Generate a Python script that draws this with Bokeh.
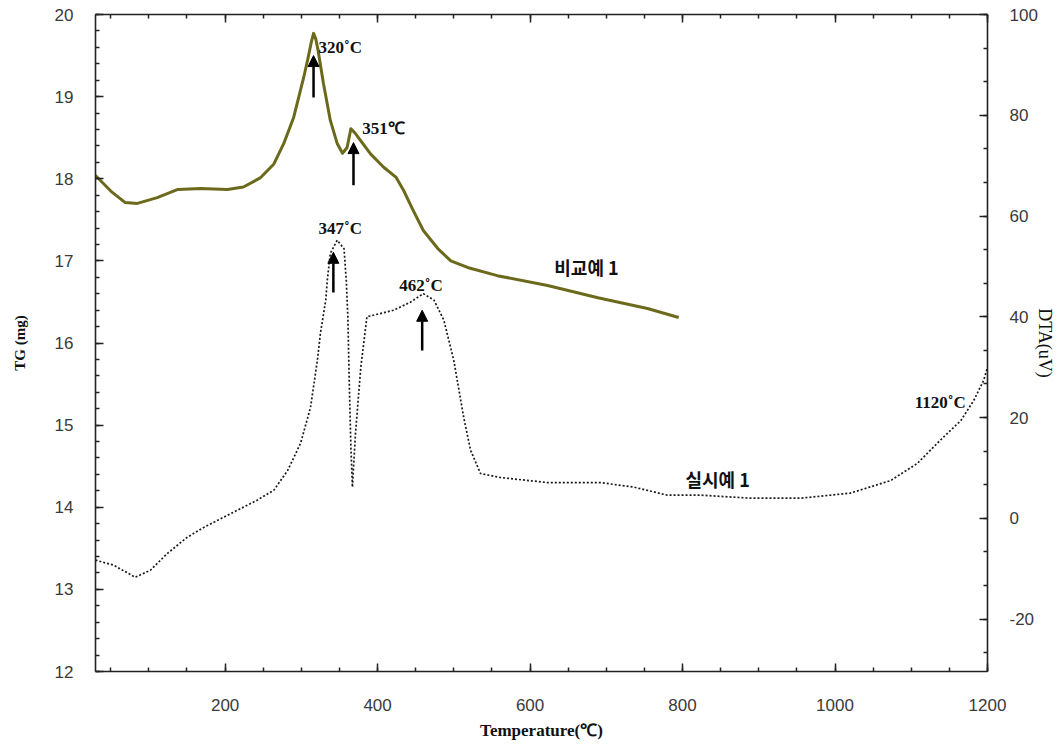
from bokeh.plotting import figure
from bokeh.models import (Range1d, LinearAxis, SingleIntervalTicker, ColumnDataSource,
                          Arrow, NormalHead, CustomJSTickFormatter)
from bokeh.core.properties import value
from bokeh.embed import file_html
from bokeh.resources import INLINE

# ---- data ----
tg_temp = [30, 50, 69, 85, 111, 138, 168, 203, 224, 246, 264, 277, 290, 303, 309, 313, 316,
           319, 322, 329, 338, 347, 354, 360, 365, 371, 378, 391, 408, 424, 434, 447, 460,
           479, 496, 518, 557, 623, 689, 754, 795]
tg_mass = [18.04, 17.85, 17.71, 17.70, 17.77, 17.87, 17.88, 17.87, 17.90, 18.01, 18.18, 18.43,
           18.75, 19.23, 19.48, 19.66, 19.77, 19.70, 19.56, 19.16, 18.71, 18.43, 18.31, 18.38,
           18.61, 18.55, 18.46, 18.30, 18.14, 18.02, 17.86, 17.61, 17.37, 17.15, 17.00, 16.92,
           16.82, 16.70, 16.55, 16.42, 16.31]

dta_temp = [30, 54, 82, 102, 124, 150, 172, 203, 242, 264, 282, 299, 312, 321, 325, 332, 334,
            338, 347, 356, 359, 361, 363, 365, 367, 371, 378, 386, 421, 443, 460, 474, 487,
            500, 513, 522, 535, 561, 623, 692, 736, 780, 824, 889, 955, 1020, 1073, 1108,
            1138, 1165, 1182, 1195, 1200]
dta_uv = [-8.3, -9.3, -11.7, -10.3, -7.0, -3.8, -1.8, 0.6, 3.6, 5.6, 9.5, 14.9, 22.0, 31.3,
          36.7, 43.3, 47.2, 52.6, 55.2, 53.5, 47.0, 40.0, 26.0, 14.0, 6.2, 16.8, 30.0, 40.0,
          41.3, 42.9, 44.6, 43.3, 39.3, 31.3, 20.0, 13.5, 8.9, 8.1, 7.1, 7.1, 6.2, 4.6, 4.6,
          4.0, 4.0, 5.0, 7.5, 10.9, 15.5, 19.4, 23.4, 27.4, 30.0]

# peak annotations on the TG curve
tg_ann_text = ["320˚C", "351℃"]
tg_ann_x = [322.5, 380]
tg_ann_y = [19.60, 18.61]
tg_arrow_x = [316, 368.4]
tg_arrow_y0 = [18.99, 17.92]
tg_arrow_y1 = [19.50, 18.44]

# peak annotations on the DTA curve
dta_ann_text = ["347˚C", "462˚C", "1120˚C"]
dta_ann_x = [351, 457, 1138]
dta_ann_y = [57.5, 46.2, 23.0]
dta_arrow_x = [342, 458.5]
dta_arrow_y0 = [44.8, 33.3]
dta_arrow_y1 = [52.8, 41.3]

series_names = ["비교예 1", "실시예 1"]
series_name_x = [674, 846]
series_name_y_tg = [16.92]
series_name_y_dta = [7.9]

# ---- figure ----
p = figure(frame_width=892, frame_height=657, output_backend="svg", toolbar_location=None,
           x_range=Range1d(30, 1200), y_range=Range1d(12, 20),
           min_border_left=95, min_border_right=69, min_border_top=14, min_border_bottom=67,
           x_axis_location=None, y_axis_location=None)
p.extra_y_ranges = {"dta": Range1d(-30.4, 100)}
p.grid.visible = False
p.outline_line_color = None
p.background_fill_color = "white"
p.border_fill_color = "white"

TICK_FONT = "Liberation Sans"
TICK_COLOR = "#3a3a3a"
fmt = "return tick.toFixed(0);"

def style(ax, interval, minors):
    ax.ticker = SingleIntervalTicker(interval=interval, num_minor_ticks=minors)
    ax.axis_line_color = "#222222"
    ax.axis_line_width = 1.6
    ax.major_tick_in = 8
    ax.major_tick_out = 0
    ax.minor_tick_in = 4
    ax.minor_tick_out = 0
    ax.major_tick_line_color = "#222222"
    ax.minor_tick_line_color = "#222222"
    ax.major_tick_line_width = 1.5
    ax.minor_tick_line_width = 1.5
    ax.major_label_text_font = TICK_FONT
    ax.major_label_text_font_size = "17px"
    ax.major_label_text_color = TICK_COLOR
    ax.formatter = CustomJSTickFormatter(code=fmt)

bottom = LinearAxis(axis_label="Temperature(℃)")
style(bottom, 200, 4)
bottom.major_label_standoff = 27
bottom.axis_label_standoff = 7
bottom.axis_label_text_font = "Liberation Serif"
bottom.axis_label_text_font_style = "bold"
bottom.axis_label_text_font_size = "17px"
bottom.axis_label_text_color = "#111111"
p.add_layout(bottom, "below")

top = LinearAxis()
style(top, 200, 4)
top.formatter = CustomJSTickFormatter(code="return '';")
top.major_label_standoff = 0
top.major_label_text_font_size = "0px"
p.add_layout(top, "above")

left = LinearAxis(axis_label="TG (mg)")
style(left, 1, 5)
left.major_label_standoff = 22
left.axis_label_standoff = 24
left.axis_label_text_font = "Liberation Serif"
left.axis_label_text_font_style = "bold"
left.axis_label_text_font_size = "15px"
left.axis_label_text_color = "#111111"
p.add_layout(left, "left")

right = LinearAxis(y_range_name="dta", axis_label="DTA(uV)")
style(right, 20, 3)
right.major_label_standoff = 22
right.axis_label_standoff = -6
right.axis_label_text_font = "Liberation Serif"
right.axis_label_text_font_style = "normal"
right.axis_label_text_font_size = "18px"
right.axis_label_text_color = "#111111"
p.add_layout(right, "right")

# ---- curves ----
p.line(tg_temp, tg_mass, line_color="#6b6a1c", line_width=3.0, line_join="round")
p.line(dta_temp, dta_uv, y_range_name="dta", line_color="#1a1a1a", line_width=1.7,
       line_dash="2 2")

# ---- arrows ----
head = dict(size=11, fill_color="black", line_color="black")
p.add_layout(Arrow(end=NormalHead(**head), line_width=2.5, line_color="black",
                   source=ColumnDataSource(dict(x0=tg_arrow_x, y0=tg_arrow_y0,
                                                x1=tg_arrow_x, y1=tg_arrow_y1)),
                   x_start="x0", y_start="y0", x_end="x1", y_end="y1"))
p.add_layout(Arrow(end=NormalHead(**head), line_width=2.5, line_color="black",
                   y_range_name="dta",
                   source=ColumnDataSource(dict(x0=dta_arrow_x, y0=dta_arrow_y0,
                                                x1=dta_arrow_x, y1=dta_arrow_y1)),
                   x_start="x0", y_start="y0", x_end="x1", y_end="y1"))

# ---- text labels ----
lab = dict(text_font=value("Liberation Serif"), text_font_style="bold",
           text_font_size="17px", text_color="#111111", text_baseline="middle")
p.text(x=tg_ann_x, y=tg_ann_y, text=tg_ann_text, text_align="left", **lab)
p.text(x=dta_ann_x, y=dta_ann_y, text=dta_ann_text, text_align="center",
       y_range_name="dta", **lab)

kr = dict(text_font=value("Noto Sans CJK KR"), text_font_style="bold",
          text_font_size="18px", text_color="#111111", text_baseline="middle",
          text_align="center")
p.text(x=series_name_x[:1], y=series_name_y_tg, text=series_names[:1], **kr)
p.text(x=series_name_x[1:], y=series_name_y_dta, text=series_names[1:],
       y_range_name="dta", **kr)

open("out.html", "w").write(file_html(p, INLINE))
